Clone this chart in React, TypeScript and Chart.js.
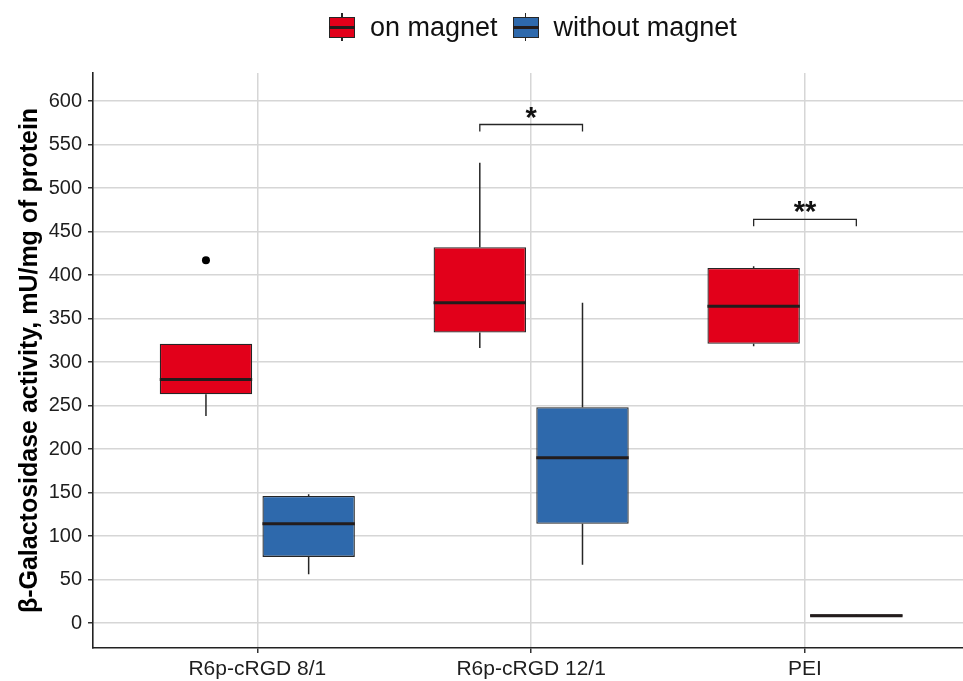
import React, { useEffect, useRef } from "react";
import { Chart, registerables } from "chart.js";

Chart.register(...registerables);

// Groups along the x axis (placed at 1, 2, 3 on a linear scale)
const CATEGORIES = ["R6p-cRGD 8/1", "R6p-cRGD 12/1", "PEI"];
const CATEGORY_POS = [1, 2, 3];

// Box statistics, one entry per group
const ON_MIN = [238, 316, 318];
const ON_Q1 = [263, 334, 321];
const ON_MEDIAN = [280, 368, 364];
const ON_Q3 = [321, 432, 408];
const ON_MAX = [321, 529, 410];
const ON_OUTLIERS = [[417], [], []];

const OFF_MIN = [56, 67, 7];
const OFF_Q1 = [76, 114, 7.5];
const OFF_MEDIAN = [114, 190, 8.5];
const OFF_Q3 = [146, 248, 10];
const OFF_MAX = [148, 368, 10.5];
const OFF_OUTLIERS = [[], [], []];

// Significance brackets between the two boxes of a group
const SIG_GROUP = [1, 2];
const SIG_Y = [573, 464];
const SIG_DROP = 8;
const SIG_LABEL = ["*", "**"];

const Y_TICKS = [0, 50, 100, 150, 200, 250, 300, 350, 400, 450, 500, 550, 600];

const RED = "#E2001A";
const BLUE = "#2E69AC";
const DARK = "#262626";
const FONT = "'Liberation Sans', Arial, Helvetica, sans-serif";

const SERIES = [
  { label: "on magnet", color: RED, min: ON_MIN, q1: ON_Q1, med: ON_MEDIAN, q3: ON_Q3, max: ON_MAX, out: ON_OUTLIERS },
  { label: "without magnet", color: BLUE, min: OFF_MIN, q1: OFF_Q1, med: OFF_MEDIAN, q3: OFF_Q3, max: OFF_MAX, out: OFF_OUTLIERS },
];

const boxDecor = {
  id: "boxDecor",
  beforeDatasetsDraw(chart: any) {
    // whiskers, drawn under the boxes
    const ctx = chart.ctx;
    const y = chart.scales.y;
    ctx.save();
    ctx.strokeStyle = DARK;
    ctx.lineWidth = 1.5;
    SERIES.forEach((s, di) => {
      const meta = chart.getDatasetMeta(di);
      meta.data.forEach((bar: any, i: number) => {
        const x = bar.x;
        ctx.beginPath();
        ctx.moveTo(x, y.getPixelForValue(s.q3[i]));
        ctx.lineTo(x, y.getPixelForValue(s.max[i]));
        ctx.moveTo(x, y.getPixelForValue(s.q1[i]));
        ctx.lineTo(x, y.getPixelForValue(s.min[i]));
        ctx.stroke();
      });
    });
    ctx.restore();
  },
  afterDatasetsDraw(chart: any) {
    const ctx = chart.ctx;
    const y = chart.scales.y;
    ctx.save();
    // medians and outliers
    SERIES.forEach((s, di) => {
      const meta = chart.getDatasetMeta(di);
      meta.data.forEach((bar: any, i: number) => {
        const half = bar.width / 2;
        const ym = y.getPixelForValue(s.med[i]);
        ctx.strokeStyle = "#231c1c";
        ctx.lineWidth = 3;
        ctx.beginPath();
        ctx.moveTo(bar.x - half, ym);
        ctx.lineTo(bar.x + half, ym);
        ctx.stroke();
        ctx.fillStyle = "#000";
        s.out[i].forEach((v: number) => {
          ctx.beginPath();
          ctx.arc(bar.x, y.getPixelForValue(v), 4, 0, Math.PI * 2);
          ctx.fill();
        });
      });
    });
    // significance brackets
    const m0 = chart.getDatasetMeta(0);
    const m1 = chart.getDatasetMeta(1);
    ctx.strokeStyle = DARK;
    ctx.lineWidth = 1.3;
    ctx.fillStyle = "#111";
    ctx.font = `bold 29px ${FONT}`;
    ctx.textAlign = "center";
    ctx.textBaseline = "alphabetic";
    SIG_GROUP.forEach((g, k) => {
      const x0 = m0.data[g].x;
      const x1 = m1.data[g].x;
      const yt = y.getPixelForValue(SIG_Y[k]);
      const yb = y.getPixelForValue(SIG_Y[k] - SIG_DROP);
      ctx.beginPath();
      ctx.moveTo(x0, yb);
      ctx.lineTo(x0, yt);
      ctx.lineTo(x1, yt);
      ctx.lineTo(x1, yb);
      ctx.stroke();
      ctx.fillText(SIG_LABEL[k], (x0 + x1) / 2, yt + 2);
    });
    ctx.restore();
  },
};

function LegendKey({ color }: { color: string }) {
  return (
    <span style={{ position: "relative", display: "inline-block", width: 26, height: 28 }}>
      <span style={{ position: "absolute", left: 12.25, top: 0, width: 1.5, height: 28, background: DARK }} />
      <span
        style={{
          position: "absolute",
          left: 0,
          top: 3.5,
          width: 26,
          height: 21,
          boxSizing: "border-box",
          background: color,
          border: `1.3px solid ${DARK}`,
        }}
      />
      <span style={{ position: "absolute", left: 0, top: 12.5, width: 26, height: 3, background: "#231c1c" }} />
    </span>
  );
}

export default function App() {
  const ref = useRef<HTMLCanvasElement>(null);

  useEffect(() => {
    const canvas = ref.current;
    if (!canvas) return;
    const chart = new Chart(canvas, {
      type: "bar",
      data: {
        datasets: SERIES.map((s) => ({
          label: s.label,
          data: CATEGORY_POS.map((x, i) => ({ x, y: [s.q1[i], s.q3[i]] })),
          backgroundColor: s.color,
          borderColor: DARK,
          borderWidth: 1.3,
          borderSkipped: false,
          categoryPercentage: 0.75,
          barPercentage: 0.9,
        })),
      },
      options: {
        animation: false,
        responsive: false,
        layout: { padding: { top: 73, right: 0, bottom: 0, left: 0 } },
        plugins: { legend: { display: false }, tooltip: { enabled: false } },
        scales: {
          x: {
            type: "linear",
            offset: false,
            min: 0.4,
            max: 3.577,
            afterBuildTicks: (scale: any) => {
              scale.ticks = CATEGORY_POS.map((v) => ({ value: v }));
            },
            afterFit: (scale: any) => {
              scale.height = 33;
            },
            ticks: {
              autoSkip: false,
              maxRotation: 0,
              padding: 4,
              color: "#1e1e1e",
              font: { family: FONT, size: 21 },
              callback: (v: any) => CATEGORIES[CATEGORY_POS.indexOf(Number(v))] ?? "",
            },
            grid: { offset: false, color: "#d6d6d6", lineWidth: 1.5, tickColor: "#333", tickLength: 5 },
            border: { color: "#222", width: 1.6 },
          },
          y: {
            type: "linear",
            min: -28.7,
            max: 632.2,
            afterBuildTicks: (scale: any) => {
              scale.ticks = Y_TICKS.map((v) => ({ value: v }));
            },
            afterFit: (scale: any) => {
              scale.width = 93;
            },
            ticks: {
              padding: 6,
              color: "#1e1e1e",
              font: { family: FONT, size: 20 },
            },
            grid: { color: "#d6d6d6", lineWidth: 1.5, tickColor: "#333", tickLength: 5 },
            border: { color: "#222", width: 1.6 },
            title: {
              display: true,
              text: "β-Galactosidase activity, mU/mg of protein",
              color: "#000",
              font: { family: FONT, size: 25, weight: "bold" },
              padding: { top: 15, bottom: 0 },
            },
          },
        },
      },
      plugins: [boxDecor],
    });
    return () => chart.destroy();
  }, []);

  return (
    <div style={{ position: "absolute", left: 0, top: 0, width: 963, height: 681, background: "#fff" }}>
      <canvas ref={ref} width={963} height={681} style={{ display: "block" }} />
      <div
        style={{
          position: "absolute",
          left: 329,
          top: 13,
          height: 28,
          display: "flex",
          alignItems: "center",
          fontFamily: FONT,
          fontSize: 27,
          color: "#111",
          whiteSpace: "nowrap",
        }}
      >
        <LegendKey color={RED} />
        <span style={{ marginLeft: 15, marginRight: 15 }}>on magnet</span>
        <LegendKey color={BLUE} />
        <span style={{ marginLeft: 15 }}>without magnet</span>
      </div>
    </div>
  );
}
